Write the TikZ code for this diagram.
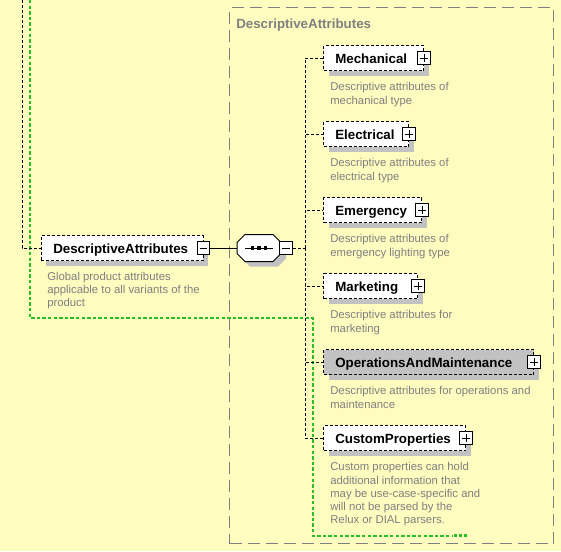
\documentclass[tikz,border=0pt]{standalone}
\usepackage{fontspec}
\setmainfont{Liberation Sans}
\usetikzlibrary{shadows}
\definecolor{bgyellow}{RGB}{255,252,192}
\definecolor{shgray}{RGB}{194,194,194}
\definecolor{descgray}{RGB}{128,128,128}
\definecolor{framegray}{RGB}{128,128,128}
\definecolor{linkgreen}{RGB}{40,190,40}
\tikzset{
  shad/.style={drop shadow={shadow xshift=3.75pt, shadow yshift=-3.75pt, fill=shgray, opacity=1}},
  elem/.style={draw=black, fill=white, line width=0.75pt, dash pattern=on 2.25pt off 1.5pt,
    minimum height=18.75pt, inner sep=0pt, shad},
  lbl/.style={font=\fontsize{10}{12}\selectfont\bfseries, inner sep=0pt, anchor=base west},
  desc/.style={font=\fontsize{8.5}{9.9}\selectfont, text=descgray, inner sep=0pt, anchor=north west, align=left},
  plusbox/.style={draw=black, solid, fill=white, line width=0.75pt, minimum size=9.5pt, inner sep=0pt,
    path picture={\draw[line width=0.75pt]
      ([xshift=2pt]path picture bounding box.west) -- ([xshift=-2pt]path picture bounding box.east)
      ([yshift=-2pt]path picture bounding box.north) -- ([yshift=2pt]path picture bounding box.south);}},
  minusbox/.style={draw=black, solid, fill=white, line width=0.75pt, minimum size=9.5pt, inner sep=0pt,
    path picture={\draw[line width=0.75pt]
      ([xshift=2pt]path picture bounding box.west) -- ([xshift=-2pt]path picture bounding box.east);}},
  conn/.style={draw=black, line width=0.75pt, dash pattern=on 2.25pt off 1.5pt},
  greenlink/.style={draw=linkgreen, line width=1pt, dash pattern=on 2.6pt off 1.6pt},
  groupbox/.style={draw=framegray, line width=1.1pt, dash pattern=on 9pt off 4.5pt, inner sep=0pt},
  octa/.style={line width=0.75pt}
}
\newcommand{\xsdchild}[6][]{%
  \node[elem, #1, minimum width=#4*0.75pt, anchor=west] (#2) at (323,#3) {};
  \node[lbl] (#2-label) at (335,#3+5) {#5};
  \node[plusbox] (#2-plus) at (#2.east) {};
  \node[desc] (#2-desc) at (330,#3+24.5) {#6};
  \draw[conn] (spine) |- (#2.west);
}
\begin{document}
\begin{tikzpicture}[x=0.75pt, y=-0.75pt]
  \path[fill=bgyellow] (0,0) rectangle (561,551);
  \useasboundingbox (0,0) rectangle (561,551);

  % group frame
  \node[groupbox, minimum width=324*0.75pt, minimum height=536*0.75pt, anchor=north west] (group) at (229,7) {};
  \node[lbl, text=framegray] (group-title) at (236,28) {DescriptiveAttributes};

  % green link
  \coordinate (gtop) at (30,0);
  \coordinate (gend) at (452,536);
  \draw[greenlink] (gtop) -- (30,318) -- (313,318) -- (313,536) -- (gend);
  \fill[linkgreen] (454,534) rectangle (457,537);
  \fill[linkgreen] (459,534) rectangle (462,537);
  \fill[linkgreen] (464,534) rectangle (467,537);

  % main element
  \node[elem, minimum width=162*0.75pt] (main) at (122,248) {};
  \node[lbl] (main-label) at (53,253) {DescriptiveAttributes};
  \node[minusbox] (main-minus) at (main.east) {};
  \node[desc] (main-desc) at (47,272) {Global product attributes\\applicable to all variants of the\\product};

  \coordinate (btop) at (22,0);
  \draw[conn] (btop) |- (main.west);

  % sequence compositor
  \node[minimum width=44*0.75pt, minimum height=27*0.75pt, inner sep=0pt] (seq) at (259,248) {};
  \fill[shgray, shift={(5,5)}] (245,234.5) -- (273,234.5) -- (281,242.5) -- (281,253.5) -- (273,261.5)
     -- (245,261.5) -- (237,253.5) -- (237,242.5) -- cycle;
  \draw[octa, fill=white] (245,234.5) -- (273,234.5) -- (281,242.5) -- (281,253.5) -- (273,261.5)
     -- (245,261.5) -- (237,253.5) -- (237,242.5) -- cycle;
  \draw[line width=0.75pt] ([xshift=-10.5pt]seq.center) -- ([xshift=10.5pt]seq.center);
  \fill ([xshift=-5.9pt,yshift=-1.2pt]seq.center) rectangle +(2.4pt,2.4pt);
  \fill ([xshift=-1.2pt,yshift=-1.2pt]seq.center) rectangle +(2.4pt,2.4pt);
  \fill ([xshift=3.5pt,yshift=-1.2pt]seq.center) rectangle +(2.4pt,2.4pt);
  \node[minusbox] (seq-minus) at (286,248) {};
  \draw[line width=0.75pt] (main-minus.east) -- (seq.west);

  \coordinate (spine) at (305,248);
  \draw[conn] (seq-minus.east) -- (spine);

  % children
  \xsdchild{mech}{58}{100}{Mechanical}{Descriptive attributes of\\mechanical type}
  \xsdchild{elec}{134}{85}{Electrical}{Descriptive attributes of\\electrical type}
  \xsdchild{emer}{210}{98}{Emergency}{Descriptive attributes of\\emergency lighting type}
  \xsdchild{mkt}{286}{94}{Marketing}{Descriptive attributes for\\marketing}
  \xsdchild[fill=shgray]{ops}{362}{210}{OperationsAndMaintenance}{Descriptive attributes for operations and\\maintenance}
  \xsdchild{cust}{438}{142}{CustomProperties}{Custom properties can hold\\additional information that\\may be use-case-specific and\\will not be parsed by the\\Relux or DIAL parsers.}
\end{tikzpicture}
\end{document}
